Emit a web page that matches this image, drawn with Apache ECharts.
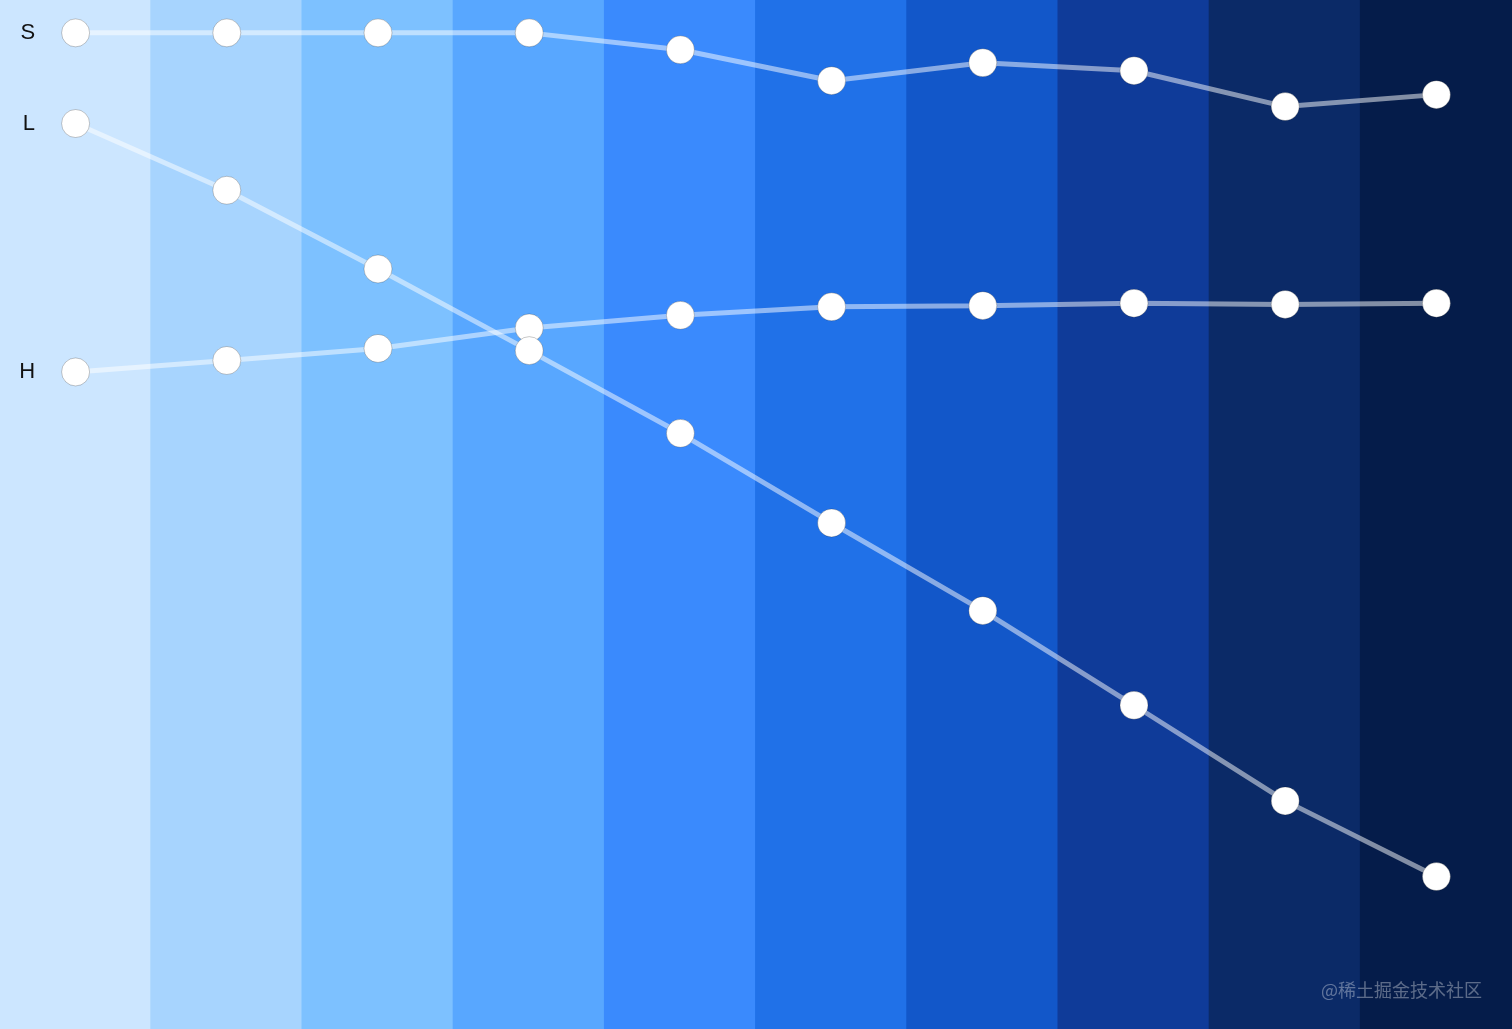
<!DOCTYPE html>
<html>
<head>
<meta charset="utf-8">
<script src="https://cdn.jsdelivr.net/npm/echarts@6/dist/echarts.min.js"></script>
<style>
html,body{margin:0;padding:0;width:100%;height:100%;overflow:hidden;background:#cce6ff;}
#chart{width:1512px;height:1029px;}
</style>
</head>
<body>
<div id="chart"></div>
<script>
const categories = ['1','2','3','4','5','6','7','8','9','10'];
const bandColors = ['#cce6ff','#a7d4fe','#7dc1ff','#58a7ff','#3a8afd','#2071e8','#1257c9','#0f3b99','#0b2a67','#051c4a'];
const hueValues = [209.0, 210.9, 212.9, 216.3, 218.4, 219.8, 220.0, 220.4, 220.2, 220.4];
const saturationValues = [100, 100, 100, 100, 98.3, 95.2, 97.0, 96.2, 92.6, 93.8];
const lightnessValues = [90.9, 84.2, 76.3, 68.1, 59.8, 50.8, 42.0, 32.5, 22.9, 15.3];

const SL_MAX = 103.3;

const chart = echarts.init(document.getElementById('chart'));

function makeSeries(name, data, axisIndex) {
  return {
    name: name,
    type: 'line',
    yAxisIndex: axisIndex,
    data: data,
    symbol: 'circle',
    symbolSize: 28,
    lineStyle: { color: 'rgba(255,255,255,0.5)', width: 5 },
    itemStyle: { color: '#ffffff', borderColor: 'rgba(0,0,0,0.22)', borderWidth: 1 },
    emphasis: { disabled: true },
    label: {
      show: true,
      position: 'left',
      distance: 26,
      color: '#111111',
      fontSize: 22,
      fontFamily: 'Helvetica, Arial, "Liberation Sans", sans-serif',
      formatter: function (p) { return p.dataIndex === 0 ? name : ''; }
    },
    z: 3
  };
}

const bandData = bandColors.map(function (c) {
  return { value: SL_MAX * 1.02, itemStyle: { color: c, borderWidth: 0 } };
});

chart.setOption({
  animation: false,
  grid: { left: 0, right: 0, top: 0, bottom: 0 },
  xAxis: {
    type: 'category',
    data: categories,
    boundaryGap: true,
    axisLine: { show: false },
    axisTick: { show: false },
    axisLabel: { show: false },
    splitLine: { show: false },
    splitArea: { show: false }
  },
  yAxis: [
    { type: 'value', min: 0, max: SL_MAX, show: false, splitLine: { show: false } },
    { type: 'value', min: 100, max: 270.7, show: false, splitLine: { show: false } }
  ],
  series: [
    {
      type: 'bar',
      yAxisIndex: 0,
      data: bandData,
      barWidth: 153,
      silent: true,
      clip: false,
      z: 1
    },
    makeSeries('S', saturationValues, 0),
    makeSeries('H', hueValues, 1),
    makeSeries('L', lightnessValues, 0)
  ],
  graphic: [{
    type: 'text',
    right: 30,
    bottom: 30,
    z: 100,
    style: {
      text: '@稀土掘金技术社区',
      fill: 'rgba(255,255,255,0.35)',
      fontSize: 18,
      fontFamily: 'Noto Sans CJK SC'
    }
  }]
});
</script>
</body>
</html>
